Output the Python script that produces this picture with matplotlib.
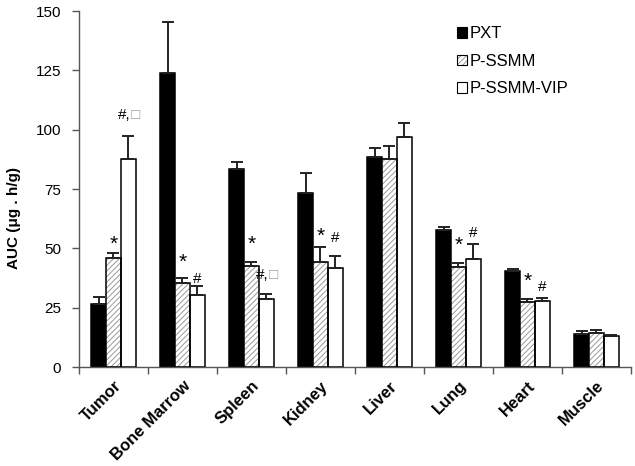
import numpy as np
import matplotlib
matplotlib.use("Agg")
import matplotlib.pyplot as plt
from matplotlib.patches import Patch
from matplotlib.legend_handler import HandlerTuple

plt.rcParams["font.family"] = ["Liberation Sans", "DejaVu Sans"]
plt.rcParams["hatch.linewidth"] = 0.7

organs = ["Tumor", "Bone Marrow", "Spleen", "Kidney", "Liver", "Lung", "Heart", "Muscle"]
series = ["PXT", "P-SSMM", "P-SSMM-VIP"]

pxt = [26.5, 124.0, 83.4, 73.5, 88.6, 57.6, 40.6, 13.9]
pxt_err = [3.1, 21.5, 3.1, 8.1, 3.6, 1.5, 0.8, 1.1]
ssmm = [45.8, 35.3, 42.7, 44.1, 87.8, 42.3, 27.2, 14.2]
ssmm_err = [2.4, 2.3, 1.7, 6.6, 5.3, 1.4, 1.4, 1.3]
vip = [87.5, 30.5, 28.7, 41.9, 96.8, 45.5, 27.7, 12.9]
vip_err = [9.8, 3.6, 1.9, 4.9, 5.9, 6.3, 1.2, 0.6]

# significance marks and the height (AUC units) where they sit
ssmm_mark = ["*", "*", "*", "*", "", "*", "*", ""]
ssmm_mark_y = [51.7, 44.0, 51.7, 54.9, 0, 51.4, 36.2, 0]
vip_mark = ["#,", "#", "#,", "#", "", "#", "#", ""]
vip_mark_y = [106.2, 37.1, 38.8, 54.2, 0, 56.6, 33.8, 0]
vip_square = [True, False, True, False, False, False, False, False]

x = np.arange(len(organs))
w = 0.217
edge = "black"
lw = 1.1
hatch_col = "#9a9a9a"

fig = plt.figure(figsize=(6.35, 4.66), dpi=100)
ax = fig.add_axes([0.1244, 0.2124, 0.8693, 0.7636])

err_kw = dict(ecolor="#222222", elinewidth=1.4, capsize=4.5, capthick=1.4)


def zero_up(err):
    return [np.zeros(len(err)), err]


# PXT
ax.bar(x - w, pxt, w, color="black", edgecolor=edge, linewidth=lw,
       yerr=zero_up(pxt_err), error_kw=err_kw, zorder=2)
# P-SSMM: gray hatch, then black outline on top
ax.bar(x, ssmm, w, color="white", edgecolor=hatch_col, linewidth=0,
       hatch="//////", zorder=2)
ax.bar(x, ssmm, w, fill=False, edgecolor=edge, linewidth=lw,
       yerr=zero_up(ssmm_err), error_kw=err_kw, zorder=3)
# P-SSMM-VIP
ax.bar(x + w, vip, w, color="white", edgecolor=edge, linewidth=lw,
       yerr=zero_up(vip_err), error_kw=err_kw, zorder=2)

for i in range(len(organs)):
    if ssmm_mark[i]:
        ax.text(x[i], ssmm_mark_y[i], ssmm_mark[i], ha="center", va="center",
                fontsize=15)
    if vip_mark[i]:
        if vip_square[i]:
            t = ax.text(x[i] + w + 0.03, vip_mark_y[i], vip_mark[i], ha="right",
                        va="center", fontsize=11)
            ax.annotate("□", xy=(1, 0), xycoords=t, ha="left", va="bottom",
                        fontsize=11, color="#9a9a9a")
        else:
            ax.text(x[i] + w, vip_mark_y[i], vip_mark[i], ha="center",
                    va="center", fontsize=11)

ax.set_xlim(-0.5, len(organs) - 0.5)
ax.set_ylim(0, 150)
ax.set_yticks([0, 25, 50, 75, 100, 125, 150])
ax.set_xticks(x)
ax.set_xticklabels(organs, rotation=45, ha="right", rotation_mode="anchor",
                   fontweight="bold", fontsize=12)
ax.set_xticks(np.arange(len(organs) + 1) - 0.5, minor=True)
ax.tick_params(axis="x", which="major", length=0, pad=8)
ax.tick_params(axis="x", which="minor", length=5, color="#555555", width=1)
ax.tick_params(axis="y", length=5, color="#555555", width=1, labelsize=11,
               pad=8)
for s in ["top", "right"]:
    ax.spines[s].set_visible(False)
for s in ["left", "bottom"]:
    ax.spines[s].set_color("#555555")
    ax.spines[s].set_linewidth(1)

ax.set_ylabel("AUC (μg . h/g)", fontweight="bold", fontsize=11)
ax.yaxis.set_label_coords(-0.105, 0.42)

handles = [
    Patch(facecolor="black", edgecolor="black", linewidth=0.8),
    (Patch(facecolor="white", edgecolor=hatch_col, hatch="//////", linewidth=0),
     Patch(fill=False, edgecolor="black", linewidth=0.8)),
    Patch(facecolor="white", edgecolor="black", linewidth=0.8),
]
ax.legend(handles, series, loc="upper left", bbox_to_anchor=(0.657, 1.0),
          frameon=False, fontsize=12, handlelength=0.6, handleheight=0.6,
          handletextpad=0.2, labelspacing=0.75,
          handler_map={tuple: HandlerTuple(ndivide=1, pad=0)})

fig.savefig("out.png", dpi=100)
